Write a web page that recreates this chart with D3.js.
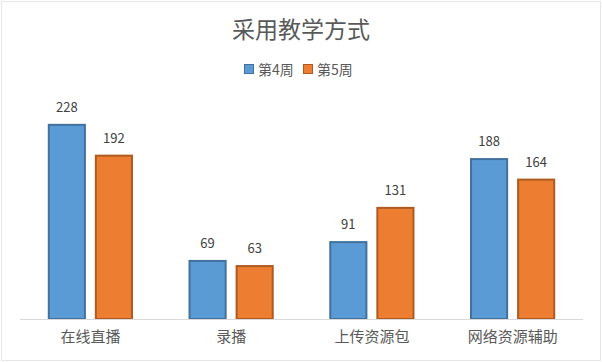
<!DOCTYPE html>
<html><head><meta charset="utf-8">
<script src="https://cdn.jsdelivr.net/npm/d3@7"></script>
<style>body{margin:0;background:#fff}svg{display:block}text{font-family:"Microsoft YaHei","Noto Sans CJK SC",sans-serif}</style>
</head><body>
<script>
const categories = ["在线直播", "录播", "上传资源包", "网络资源辅助"];
const seriesNames = ["第4周", "第5周"];
const week4 = [228, 69, 91, 188];
const week5 = [192, 63, 131, 164];
const fills = ["#5B9BD5", "#ED7D31"];
const strokes = ["#41719C", "#AE5A21"];

const W = 602, H = 362;
const svg = d3.select("body").append("svg").attr("width", W).attr("height", H);
svg.append("rect").attr("x", 1.5).attr("y", 1.5).attr("width", W - 3).attr("height", H - 3)
  .attr("fill", "#fff").attr("stroke", "#e6e6e6").attr("stroke-width", 1);

const left = 20, right = 583, base = 319;
const x0 = d3.scaleBand().domain(categories).range([left, right]).paddingInner(0).paddingOuter(0);
const x1 = d3.scaleBand().domain(seriesNames).range([0, x0.bandwidth()]).paddingInner(0.19).paddingOuter(0.59);
const y = d3.scaleLinear().domain([0, 250]).range([base, base - 214]);

const data = [week4, week5];
categories.forEach((c, i) => {
  seriesNames.forEach((s, j) => {
    const v = data[j][i];
    const bx = x0(c) + x1(s);
    svg.append("rect").attr("x", bx + 1).attr("y", y(v) + 1)
      .attr("width", x1.bandwidth() - 2).attr("height", base - y(v) - 1)
      .attr("fill", fills[j]).attr("stroke", strokes[j]).attr("stroke-width", 2);
    svg.append("text").attr("x", bx + x1.bandwidth() / 2).attr("y", y(v) - 12)
      .attr("text-anchor", "middle").attr("font-size", 13).attr("fill", "#404040").text(v);
  });
});

svg.append("line").attr("x1", left).attr("x2", right).attr("y1", base + 0.5).attr("y2", base + 0.5)
  .attr("stroke", "#d9d9d9").attr("stroke-width", 1);

const xAxis = svg.append("g").attr("transform", `translate(0,${base})`)
  .call(d3.axisBottom(x0).tickSize(0).tickPadding(0));
xAxis.select(".domain").remove();
xAxis.selectAll("text").attr("font-size", 15).attr("fill", "#595959").attr("y", 23).attr("dy", 0)
  .style("font-family", '"Microsoft YaHei","Noto Sans CJK SC",sans-serif');

svg.append("text").attr("x", 301).attr("y", 38).attr("text-anchor", "middle")
  .attr("font-size", 23).attr("fill", "#595959").text("采用教学方式");

const legX = [244, 303];
seriesNames.forEach((s, j) => {
  svg.append("rect").attr("x", legX[j] + 0.5).attr("y", 64.5).attr("width", 9).attr("height", 9)
    .attr("fill", fills[j]).attr("stroke", strokes[j]).attr("stroke-width", 1);
  svg.append("text").attr("x", legX[j] + 14).attr("y", 75).attr("font-size", 14)
    .attr("fill", "#595959").text(s);
});
</script>
</body></html>
